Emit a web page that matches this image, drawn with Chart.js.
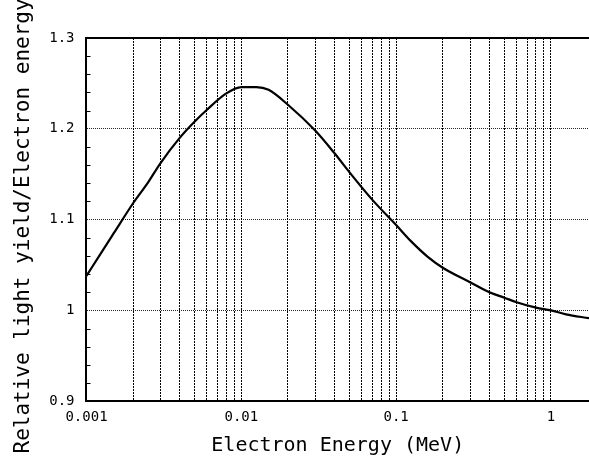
<!DOCTYPE html>
<html lang="en">
<head>
   <meta charset="UTF-8">
   <title>Relative light yield</title>
   <script src="https://cdn.jsdelivr.net/npm/chart.js"></script>
   <style>
      body { margin: 0; background: #fff; }
      #wrap { width: 589px; height: 459px; }
   </style>
</head>
<body>
   <div id="wrap"><canvas id="yieldChart"></canvas></div>

   <script>
      // Electron energy (MeV) and relative light yield / electron energy
      const energy = [0.001, 0.00125, 0.0015, 0.002, 0.0025, 0.003, 0.004, 0.005, 0.006, 0.008,
                      0.01, 0.0125, 0.015, 0.02, 0.03, 0.04, 0.05, 0.07, 0.1, 0.125,
                      0.16, 0.2, 0.3, 0.4, 0.5, 0.6, 0.8, 1, 1.25, 1.76];
      const yieldRatio = [1.038, 1.064, 1.085, 1.118, 1.141, 1.162, 1.190, 1.208, 1.221, 1.239,
                          1.246, 1.246, 1.243, 1.2265, 1.198, 1.173, 1.152, 1.122, 1.094, 1.076,
                          1.059, 1.047, 1.031, 1.020, 1.014, 1.009, 1.003, 1.000, 0.9957, 0.9914];

      // grid / tick positions
      const xTicks = [0.001, 0.002, 0.003, 0.004, 0.005, 0.006, 0.007, 0.008, 0.009,
                      0.01, 0.02, 0.03, 0.04, 0.05, 0.06, 0.07, 0.08, 0.09,
                      0.1, 0.2, 0.3, 0.4, 0.5, 0.6, 0.7, 0.8, 0.9, 1];
      const yTicks = [0.9, 0.92, 0.94, 0.96, 0.98, 1.0, 1.02, 1.04, 1.06, 1.08,
                      1.1, 1.12, 1.14, 1.16, 1.18, 1.2, 1.22, 1.24, 1.26, 1.28, 1.3];

      const isTenth = v => Math.abs(v * 10 - Math.round(v * 10)) < 1e-6;
      const isDecade = v => Math.abs(Math.log10(v) - Math.round(Math.log10(v))) < 1e-9;
      const isTop = v => Math.abs(v - 1.3) < 1e-6;

      const mono = 'DejaVu Sans Mono';

      // small inward ticks on the y axis between the labelled values
      const minorTicks = {
         id: 'minorTicks',
         afterDraw(chart) {
            const { ctx, chartArea } = chart;
            const y = chart.scales.y;
            ctx.save();
            ctx.strokeStyle = '#000';
            ctx.lineWidth = 1;
            yTicks.forEach(v => {
               if (isTenth(v)) return;
               const py = Math.round(y.getPixelForValue(v)) + 0.5;
               ctx.beginPath();
               ctx.moveTo(chartArea.left, py);
               ctx.lineTo(chartArea.left + 4, py);
               ctx.stroke();
            });
            ctx.restore();
         }
      };

      const ctx = document.getElementById('yieldChart').getContext('2d');
      new Chart(ctx, {
         type: 'line',
         data: {
            datasets: [{
               data: energy.map((e, i) => ({ x: e, y: yieldRatio[i] })),
               borderColor: '#000',
               borderWidth: 2.2,
               pointRadius: 0,
               cubicInterpolationMode: 'monotone',
               fill: false
            }]
         },
         options: {
            responsive: true,
            maintainAspectRatio: false,
            animation: false,
            layout: { padding: { top: 38, right: 0, bottom: 0, left: 0 } },
            plugins: { legend: { display: false }, tooltip: { enabled: false } },
            scales: {
               x: {
                  type: 'logarithmic',
                  min: 0.001,
                  max: 1.76,
                  afterBuildTicks: axis => { axis.ticks = xTicks.map(v => ({ value: v })); },
                  ticks: {
                     autoSkip: false,
                     maxRotation: 0,
                     padding: 8,
                     color: '#000',
                     font: { family: mono, size: 14 },
                     callback: v => isDecade(v) ? String(v) : ''
                  },
                  grid: { color: '#000', lineWidth: 1, drawTicks: false },
                  border: { display: true, color: '#000', width: 2, dash: [2, 1] },
                  title: {
                     display: true,
                     text: 'Electron Energy (MeV)',
                     color: '#000',
                     font: { family: mono, size: 20 },
                     padding: { top: 0, bottom: 1 }
                  }
               },
               y: {
                  min: 0.9,
                  max: 1.3,
                  afterBuildTicks: axis => { axis.ticks = yTicks.map(v => ({ value: v })); },
                  ticks: {
                     autoSkip: false,
                     padding: 12,
                     color: '#000',
                     font: { family: mono, size: 14 },
                     callback: v => isTenth(v) ? String(Math.round(v * 10) / 10) : ''
                  },
                  grid: {
                     drawTicks: false,
                     color: c => isTop(c.tick.value) ? '#000' : (isTenth(c.tick.value) ? 'rgba(0,0,0,0.85)' : 'transparent'),
                     lineWidth: c => isTop(c.tick.value) ? 2 : 1
                  },
                  border: {
                     display: true, color: '#000', width: 2,
                     dash: c => (c.tick && isTop(c.tick.value)) ? [] : [1, 1]
                  },
                  title: {
                     display: true,
                     text: 'Relative light yield/Electron energy ',
                     color: '#000',
                     font: { family: mono, size: 21 },
                     padding: { top: 11, bottom: 1 }
                  }
               }
            }
         },
         plugins: [minorTicks]
      });
   </script>
</body>
</html>
